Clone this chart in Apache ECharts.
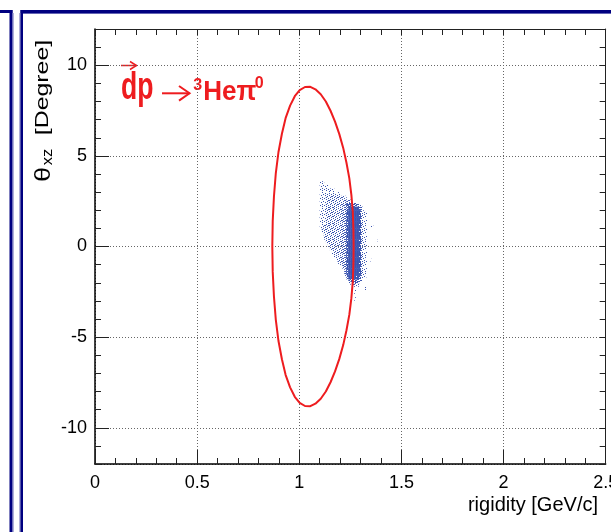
<!DOCTYPE html>
<html><head><meta charset="utf-8">
<script src="https://cdn.jsdelivr.net/npm/echarts@6/dist/echarts.min.js"></script>
<style>html,body{margin:0;padding:0;background:#fff}#c{width:611px;height:532px}</style>
</head><body><div id="c"></div>
<script>
// ---- axis ranges and tick labels ----
const xRange = [0, 2.5];
const yRange = [-12, 12];
const xTickLabels = [0, 0.5, 1, 1.5, 2, 2.5];
const yTickLabels = [-10, -5, 0, 5, 10];

// ---- cut contour (rigidity [GeV/c], theta_xz [deg]) ----
const cutR = [1.266,1.265,1.262,1.255,1.245,1.231,1.215,1.196,1.175,1.153,1.130,1.105,1.079,1.054,1.028,1.002,0.978,0.955,0.933,0.915,0.898,0.885,0.876,0.870,0.868,
              0.870,0.876,0.885,0.898,0.915,0.933,0.955,0.978,1.002,1.028,1.054,1.079,1.105,1.130,1.153,1.175,1.196,1.215,1.231,1.245,1.255,1.262,1.265,1.266];
const cutTheta = [0,0.96,1.92,2.85,3.76,4.62,5.44,6.20,6.89,7.49,8.00,8.40,8.67,8.81,8.80,8.63,8.29,7.77,7.08,6.22,5.20,4.03,2.76,1.40,0,
              -1.40,-2.76,-4.03,-5.20,-6.22,-7.08,-7.77,-8.29,-8.63,-8.80,-8.81,-8.67,-8.40,-8.00,-7.49,-6.89,-6.20,-5.44,-4.62,-3.76,-2.85,-1.92,-0.96,0];

// ---- 2D histogram of events (density level 0..9) ----
const histR0 = 1.08, histDR = 0.01;          // first column edge, column width
const histThetaTop = 3.6, histDTheta = 0.2;  // top row edge, row height
const histRows = [
"0022 0000 0000 0000 0000 0000 0000 0000",
"0022 2200 0000 0000 0000 0000 0000 0000",
"0022 2222 2000 0000 0000 0000 0000 0000",
"0022 2222 2222 0000 0000 0000 0000 0000",
"0022 2333 3333 3320 0000 0000 0000 0000",
"0022 2333 3333 3334 3000 0000 0000 0000",
"0022 2333 3333 3447 7755 3200 0000 0000",
"0022 2333 3333 3446 9999 9620 0000 0000",
"0022 2333 3333 3447 9999 9832 1000 0000",
"0022 2333 3333 3447 9999 9832 1000 0000",
"0022 2333 3333 3447 9999 9832 1000 0000",
"0022 2333 3333 3447 9999 9832 1000 0000",
"0022 3333 3333 3447 9999 9832 1001 0000",
"0003 3333 3333 3447 9999 9832 1000 0000",
"0000 3333 3333 3447 9999 9832 1000 0000",
"0000 3333 3333 3447 9999 9832 1000 0000",
"0000 0333 3333 3447 9999 9832 1000 0100",
"0000 0033 3333 3447 9999 9832 1000 0000",
"0000 0003 3333 3447 9999 9832 1000 0000",
"0000 0000 3333 3447 9999 9832 1000 0000",
"0000 0000 0333 3447 9999 9832 1000 0000",
"0000 0000 0033 3447 9999 9832 1010 0000",
"0000 0000 0003 3447 9999 9832 1000 0000",
"0000 0000 0000 0447 9999 9832 1000 0000",
"0000 0000 0000 0047 9999 9832 1000 0000",
"0000 0000 0000 0037 9999 9832 1000 0000",
"0000 0000 0000 0004 8888 8621 0100 0000",
"0000 0000 0000 0000 3666 6310 0000 0000",
"0000 0000 0000 0000 0233 2100 0000 0000",
"0000 0000 0000 0000 0011 0000 1000 0000",
"0000 0000 0000 0000 0001 0000 0000 0000",
"0000 0000 0000 0000 0010 0000 0000 0000",
"0000 0000 0000 0000 0001 0000 0000 0000"
];

// ---- build series data ----
const histCells = [];
histRows.forEach((row, j) => {
  const s = row.replace(/ /g, '');
  for (let i = 0; i < s.length; i++) {
    const lv = +s[i];
    if (lv > 0) histCells.push([histR0 + i * histDR, histThetaTop - j * histDTheta, lv]);
  }
});
const cutData = cutR.map((r, i) => [r, cutTheta[i]]);

const FONT = "'Liberation Sans', Arial, Helvetica, sans-serif";
const RED = '#ee1c1f';
const DOT_COLOR = 'rgb(58,84,176)';
const NAVY = '#000080', NAVYL = '#6464b4';

// dotted fill textures (ordered dither) used to draw each density level like a scatter plot
const levelCoverage = [0, 0.08, 0.19, 0.29, 0.4, 0.52, 0.65, 0.82, 0.93, 1];
function makeTile(frac) {
  const n = 16, c = document.createElement('canvas');
  c.width = n; c.height = n;
  const ctx = c.getContext('2d');
  ctx.fillStyle = DOT_COLOR;
  for (let y = 0; y < n; y++) for (let x = 0; x < n; x++) {
    const rank = ((x + 0.5) * 0.7548776662 + (y + 0.5) * 0.5698402910) % 1;
    if (rank < frac) ctx.fillRect(x, y, 1, 1);
  }
  return c;
}
const levelFill = levelCoverage.map((f, lv) => lv === 9 ? DOT_COLOR : {image: makeTile(f), repeat: 'repeat'});

const chart = echarts.init(document.getElementById('c'), null, {renderer: 'canvas'});
const tickStyle = {color: '#222', width: 1};
chart.setOption({
  animation: false,
  backgroundColor: '#fff',
  grid: {left: 95, right: 5.3, top: 29, bottom: 68, containLabel: false, outerBoundsMode: 'none'},
  xAxis: [
    {
      type: 'value', position: 'bottom', min: xRange[0], max: xRange[1], interval: 0.5,
      axisLine: {show: true, onZero: false, lineStyle: {color: '#000', width: 1.5}},
      axisTick: {show: true, inside: true, length: 14, lineStyle: tickStyle},
      minorTick: {show: true, splitNumber: 5, length: 6, lineStyle: tickStyle},
      axisLabel: {margin: 10, fontSize: 18, color: '#000', fontFamily: FONT, hideOverlap: false,
        formatter: v => xTickLabels.some(t => Math.abs(t - v) < 1e-6) ? String(+(+v).toFixed(2)) : ''},
      splitLine: {show: true, lineStyle: {type: [1, 2], color: '#666', width: 1}}
    },
    {
      type: 'value', position: 'top', min: xRange[0], max: xRange[1], interval: 0.1,
      axisLine: {show: true, onZero: false, lineStyle: {color: '#222', width: 1}},
      axisTick: {show: true, inside: true, length: 6, lineStyle: tickStyle},
      axisLabel: {show: false}, splitLine: {show: false}
    }
  ],
  yAxis: [
    {
      type: 'value', position: 'left', min: yRange[0], max: yRange[1], splitNumber: 5,
      axisLine: {show: true, onZero: false, lineStyle: {color: '#000', width: 1.5}},
      axisTick: {show: true, inside: true, length: 14, lineStyle: tickStyle},
      axisLabel: {margin: 8, fontSize: 18, color: '#000', fontFamily: FONT,
        showMinLabel: false, showMaxLabel: false,
        formatter: v => yTickLabels.indexOf(v) >= 0 ? String(v) : ''},
      splitLine: {show: true, lineStyle: {type: [1, 2], color: '#666', width: 1}}
    },
    {
      type: 'value', position: 'left', min: yRange[0], max: yRange[1], interval: 1,
      axisLine: {show: false},
      axisTick: {show: true, inside: true, length: 6, lineStyle: tickStyle},
      axisLabel: {show: false}, splitLine: {show: false}
    },
    {
      type: 'value', position: 'right', min: yRange[0], max: yRange[1], interval: 1,
      axisLine: {show: true, onZero: false, lineStyle: {color: '#222', width: 1}},
      axisTick: {show: true, inside: true, length: 6, lineStyle: tickStyle},
      axisLabel: {show: false}, splitLine: {show: false}
    }
  ],
  series: [
    {
      type: 'custom', xAxisIndex: 0, yAxisIndex: 0, z: 2,
      data: histCells, encode: {x: 0, y: 1},
      renderItem: (params, api) => {
        const r = api.value(0), t = api.value(1), lv = api.value(2);
        const p1 = api.coord([r, t]);
        const p2 = api.coord([r + histDR, t - histDTheta]);
        return {type: 'rect',
          shape: {x: p1[0], y: p1[1], width: p2[0] - p1[0] + 0.4, height: p2[1] - p1[1] + 0.4},
          style: {fill: levelFill[lv]}};
      }
    },
    {
      type: 'line', xAxisIndex: 0, yAxisIndex: 0, z: 3,
      data: cutData, showSymbol: false, symbol: 'none', smooth: false,
      lineStyle: {color: RED, width: 2}
    }
  ],
  graphic: [
    // canvas borders
    {type: 'rect', shape: {x: 0, y: 10, width: 12.5, height: 3}, style: {fill: NAVY}},
    {type: 'rect', shape: {x: 9.5, y: 10, width: 3, height: 522}, style: {fill: NAVY}},
    {type: 'rect', shape: {x: 12.5, y: 13, width: 1, height: 519}, style: {fill: NAVYL}},
    {type: 'rect', shape: {x: 19.5, y: 13, width: 1, height: 519}, style: {fill: NAVYL}},
    {type: 'rect', shape: {x: 20.5, y: 10, width: 2.5, height: 522}, style: {fill: NAVY}},
    {type: 'rect', shape: {x: 20.5, y: 10, width: 591, height: 3}, style: {fill: NAVY}},
    {type: 'rect', shape: {x: 23, y: 13, width: 588, height: 1}, style: {fill: NAVYL}},
    // y axis title
    {type: 'text', x: 43.5, y: 87.5, rotation: Math.PI / 2, scaleX: 1.38,
      style: {text: '[Degree]', fontSize: 18, fontFamily: FONT, fill: '#000', align: 'center', verticalAlign: 'middle'}},
    {type: 'text', x: 47.5, y: 157, rotation: Math.PI / 2, scaleX: 1.1,
      style: {text: 'xz', fontSize: 15, fontFamily: FONT, fill: '#000', align: 'center', verticalAlign: 'middle'}},
    {type: 'text', x: 44, y: 174.5, rotation: Math.PI / 2, scaleX: 1.2,
      style: {text: '\u03b8', fontSize: 22, fontFamily: FONT, fill: '#000', align: 'center', verticalAlign: 'middle'}},
    // x axis title
    {type: 'text', x: 598, y: 505.5,
      style: {text: 'rigidity [GeV/c]', fontSize: 20, fontFamily: FONT, fill: '#000', align: 'right', verticalAlign: 'middle'}},
    // reaction label
    {type: 'polyline', shape: {points: [[121, 65.5], [136.5, 65.5]]}, style: {stroke: RED, lineWidth: 1.5, fill: null}},
    {type: 'polyline', shape: {points: [[130, 61.5], [136.5, 65.5], [130, 69.5]]}, style: {stroke: RED, lineWidth: 1.5, fill: null}},
    {type: 'text', x: 121, y: 88.5, scaleX: 0.7,
      style: {text: 'dp', fontSize: 38, fontWeight: 'bold', fontFamily: FONT, fill: RED, align: 'left', verticalAlign: 'middle'}},
    {type: 'polyline', shape: {points: [[162, 93.3], [189.5, 93.3]]}, style: {stroke: RED, lineWidth: 2, fill: null}},
    {type: 'polyline', shape: {points: [[179, 86], [189.5, 93.3], [179, 100.6]]}, style: {stroke: RED, lineWidth: 2, fill: null}},
    {type: 'text', x: 197.8, y: 85.8,
      style: {text: '3', fontSize: 16, fontWeight: 'bold', fontFamily: FONT, fill: RED, align: 'center', verticalAlign: 'middle'}},
    {type: 'text', x: 203.3, y: 92, scaleX: 0.93,
      style: {text: 'He\u03c0', fontSize: 28, fontWeight: 'bold', fontFamily: FONT, fill: RED, align: 'left', verticalAlign: 'middle'}},
    {type: 'text', x: 259.2, y: 84,
      style: {text: '0', fontSize: 16, fontWeight: 'bold', fontFamily: FONT, fill: RED, align: 'center', verticalAlign: 'middle'}}
  ]
});
</script>
</body></html>
